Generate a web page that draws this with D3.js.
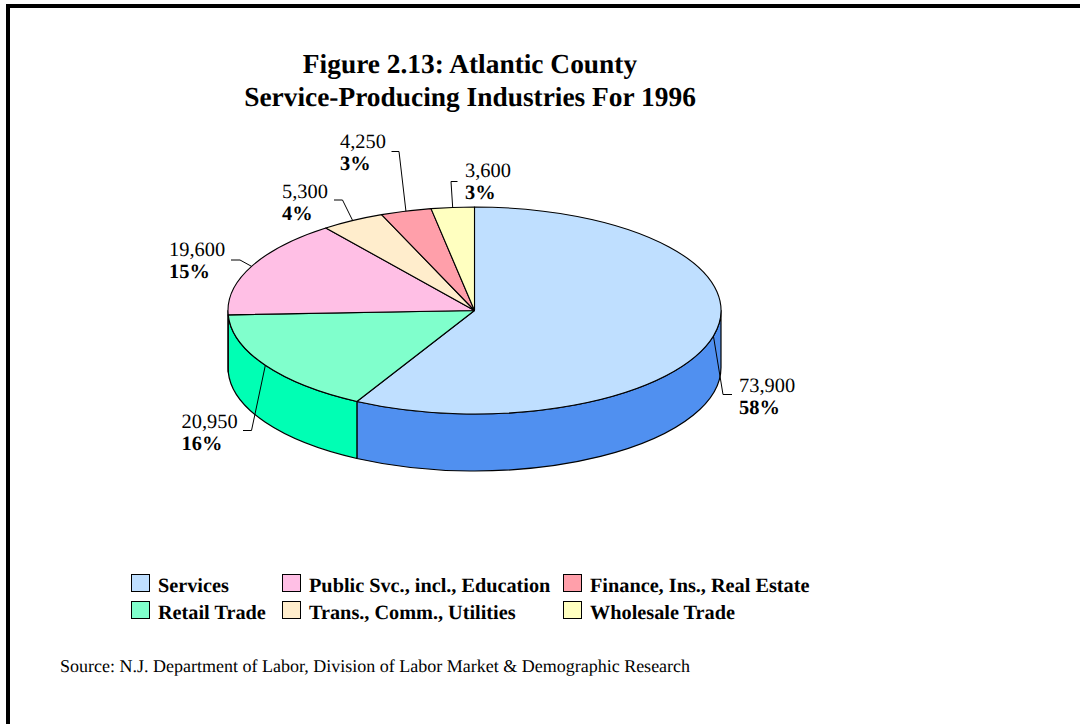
<!DOCTYPE html>
<html><head><meta charset="utf-8">
<style>html,body{margin:0;padding:0;background:#fff}svg{display:block}text{font-family:"Liberation Serif","Times New Roman",serif;fill:#000;text-rendering:geometricPrecision}</style>
<script src="https://cdnjs.cloudflare.com/ajax/libs/d3/7.8.5/d3.min.js"></script>
</head><body><svg id="c" width="1080" height="724"></svg>
<script>
const categories=["Services","Retail Trade","Public Svc., incl., Education","Trans., Comm., Utilities","Finance, Ins., Real Estate","Wholesale Trade"];
const values=[73900,20950,19600,5300,4250,3600];
const valueLabels=["73,900","20,950","19,600","5,300","4,250","3,600"];
const percentLabels=["58%","16%","15%","4%","3%","3%"];
const titleLines=["Figure 2.13: Atlantic County","Service-Producing Industries For 1996"];
const sourceText="Source: N.J. Department of Labor, Division of Labor Market & Demographic Research";
// styling and layout, separate from the data
const topColors=["#BFDFFF","#80FFCC","#FFBFE5","#FFEDCC","#FF9FAA","#FFFFC0"];
const sideColors=["#5090F0","#00FFB4","#FFBFE5","#FFEDCC","#FF9FAA","#FFFFC0"];
const cx=474.5,cy=310.5,rx=246.5,ry=103.5,depth=57;
const labelPos=[[739,392],[181.5,428],[169,256],[282,198],[340,148],[465,177]];
const leaderMid=[[723,394.5],[251.5,430.5],[240,260],[342.5,200],[399,151.5],[451,181.5]];
const leaderEnd=[[732,394.5],[243,430.5],[231,260],[334,200],[391.5,151.5],[457.5,181.5]];
const legendCells=[[131,574],[282,574],[563,574],[131,601],[282,601],[563,601]];
const legendOrder=[0,2,4,1,3,5];

const svg=d3.select("#c");
// frame: top and left rules only
svg.append("rect").attr("x",6).attr("y",4).attr("width",1074).attr("height",4).attr("fill","#000");
svg.append("rect").attr("x",6).attr("y",4).attr("width",4).attr("height",720).attr("fill","#000");

svg.selectAll("text.title").data(titleLines).join("text").attr("class","title")
 .attr("x",470).attr("y",(d,i)=>73+i*33).attr("text-anchor","middle")
 .attr("font-size",27.4).attr("font-weight","bold").text(d=>d);

const arcs=d3.pie().sort(null)(values);
const px=a=>cx+rx*Math.sin(a), py=a=>cy-ry*Math.cos(a);
const fmt=n=>n.toFixed(2);
const PI=Math.PI;
// front wall
arcs.forEach((d,i)=>{
  const a0=Math.max(d.startAngle,PI/2), a1=Math.min(d.endAngle,3*PI/2);
  if(a1<=a0) return;
  const large=(a1-a0)>PI?1:0;
  const p=`M${fmt(px(a0))},${fmt(py(a0))}A${rx},${ry} 0 ${large} 1 ${fmt(px(a1))},${fmt(py(a1))}`+
    `L${fmt(px(a1))},${fmt(py(a1)+depth)}A${rx},${ry} 0 ${large} 0 ${fmt(px(a0))},${fmt(py(a0)+depth)}Z`;
  svg.append("path").attr("d",p).attr("fill",sideColors[i]).attr("stroke","#000").attr("stroke-width",1.2).attr("stroke-linejoin","round");
});
// top face
svg.selectAll("path.top").data(arcs).join("path").attr("class","top")
 .attr("d",d=>{
   const large=(d.endAngle-d.startAngle)>PI?1:0;
   return `M${cx},${cy}L${fmt(px(d.startAngle))},${fmt(py(d.startAngle))}A${rx},${ry} 0 ${large} 1 ${fmt(px(d.endAngle))},${fmt(py(d.endAngle))}Z`;
 })
 .attr("fill",(d,i)=>topColors[i]).attr("stroke","#000").attr("stroke-width",1.1).attr("stroke-linejoin","round");
// leaders
svg.selectAll("path.leader").data(arcs).join("path").attr("class","leader")
 .attr("d",(d,i)=>{
   const m=(d.startAngle+d.endAngle)/2;
   return d3.line()([[px(m),py(m)],leaderMid[i],leaderEnd[i]]);
 }).attr("fill","none").attr("stroke","#000").attr("stroke-width",1);
// data labels
arcs.forEach((d,i)=>{
  svg.append("text").attr("x",labelPos[i][0]).attr("y",labelPos[i][1]).attr("font-size",20.4).text(valueLabels[i]);
  svg.append("text").attr("x",labelPos[i][0]).attr("y",labelPos[i][1]+22).attr("font-size",20.4).attr("font-weight","bold").text(percentLabels[i]);
});
// legend
legendOrder.forEach((k,i)=>{
  const [x,y]=legendCells[i];
  svg.append("rect").attr("x",x+.5).attr("y",y+.5).attr("width",18).attr("height",17).attr("fill",topColors[k]).attr("stroke","#000").attr("stroke-width",1);
  svg.append("text").attr("x",x+27).attr("y",y+18).attr("font-size",20.25).attr("font-weight","bold").text(categories[k]);
});
svg.append("text").attr("x",60).attr("y",672).attr("font-size",18).text(sourceText);
</script></body></html>
